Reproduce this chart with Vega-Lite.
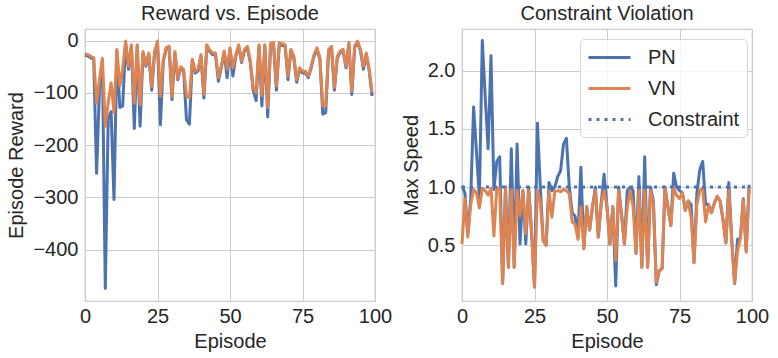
{
  "$schema": "https://vega.github.io/schema/vega-lite/v6.json",
  "padding": {"left": 6, "top": 3, "right": 5, "bottom": 5},
  "spacing": 87,
  "bounds": "flush",
  "datasets": {
    "reward": [
      {"Episode":0,"PN":-28,"VN":-25},{"Episode":1,"PN":-30,"VN":-27},{"Episode":2,"PN":-33,"VN":-30},{"Episode":3,"PN":-36,"VN":-33},
      {"Episode":4,"PN":-254,"VN":-120},{"Episode":5,"PN":-90,"VN":-75},{"Episode":6,"PN":-38,"VN":-34},{"Episode":7,"PN":-474,"VN":-164},
      {"Episode":8,"PN":-150,"VN":-119},{"Episode":9,"PN":-136,"VN":-81},{"Episode":10,"PN":-304,"VN":-138},{"Episode":11,"PN":-20,"VN":-17},
      {"Episode":12,"PN":-128,"VN":-87},{"Episode":13,"PN":-125,"VN":-55},{"Episode":14,"PN":-4,"VN":-1},{"Episode":15,"PN":-55,"VN":-49},
      {"Episode":16,"PN":-11,"VN":-8},{"Episode":17,"PN":-168,"VN":-120},{"Episode":18,"PN":-11,"VN":-8},{"Episode":19,"PN":-164,"VN":-123},
      {"Episode":20,"PN":-24,"VN":-21},{"Episode":21,"PN":-49,"VN":-46},{"Episode":22,"PN":-27,"VN":-24},{"Episode":23,"PN":-95,"VN":-88},
      {"Episode":24,"PN":-24,"VN":-21},{"Episode":25,"PN":-4,"VN":-1},{"Episode":26,"PN":-161,"VN":-107},{"Episode":27,"PN":-40,"VN":-37},
      {"Episode":28,"PN":-16,"VN":-13},{"Episode":29,"PN":-14,"VN":-11},{"Episode":30,"PN":-113,"VN":-107},{"Episode":31,"PN":-24,"VN":-21},
      {"Episode":32,"PN":-75,"VN":-72},{"Episode":33,"PN":-53,"VN":-50},{"Episode":34,"PN":-58,"VN":-55},{"Episode":35,"PN":-152,"VN":-106},
      {"Episode":36,"PN":-160,"VN":-110},{"Episode":37,"PN":-39,"VN":-36},{"Episode":38,"PN":-62,"VN":-59},{"Episode":39,"PN":-58,"VN":-55},
      {"Episode":40,"PN":-30,"VN":-27},{"Episode":41,"PN":-110,"VN":-103},{"Episode":42,"PN":-11,"VN":-8},{"Episode":43,"PN":-21,"VN":-18},
      {"Episode":44,"PN":-27,"VN":-24},{"Episode":45,"PN":-27,"VN":-24},{"Episode":46,"PN":-78,"VN":-71},{"Episode":47,"PN":-52,"VN":-49},
      {"Episode":48,"PN":-23,"VN":-20},{"Episode":49,"PN":-71,"VN":-55},{"Episode":50,"PN":-17,"VN":-14},{"Episode":51,"PN":-68,"VN":-52},
      {"Episode":52,"PN":-30,"VN":-27},{"Episode":53,"PN":-11,"VN":-8},{"Episode":54,"PN":-42,"VN":-39},{"Episode":55,"PN":-20,"VN":-17},
      {"Episode":56,"PN":-14,"VN":-11},{"Episode":57,"PN":-42,"VN":-39},{"Episode":58,"PN":-95,"VN":-90},{"Episode":59,"PN":-115,"VN":-100},
      {"Episode":60,"PN":-11,"VN":-8},{"Episode":61,"PN":-125,"VN":-105},{"Episode":62,"PN":-11,"VN":-8},{"Episode":63,"PN":-146,"VN":-128},
      {"Episode":64,"PN":-8,"VN":-5},{"Episode":65,"PN":-7,"VN":-4},{"Episode":66,"PN":-95,"VN":-87},{"Episode":67,"PN":-7,"VN":-4},
      {"Episode":68,"PN":-9,"VN":-6},{"Episode":69,"PN":-11,"VN":-8},{"Episode":70,"PN":-75,"VN":-68},{"Episode":71,"PN":-20,"VN":-17},
      {"Episode":72,"PN":-33,"VN":-30},{"Episode":73,"PN":-80,"VN":-75},{"Episode":74,"PN":-55,"VN":-52},{"Episode":75,"PN":-62,"VN":-59},
      {"Episode":76,"PN":-62,"VN":-59},{"Episode":77,"PN":-71,"VN":-68},{"Episode":78,"PN":-52,"VN":-49},{"Episode":79,"PN":-30,"VN":-27},
      {"Episode":80,"PN":-17,"VN":-14},{"Episode":81,"PN":-36,"VN":-33},{"Episode":82,"PN":-141,"VN":-125},{"Episode":83,"PN":-138,"VN":-125},
      {"Episode":84,"PN":-20,"VN":-17},{"Episode":85,"PN":-14,"VN":-11},{"Episode":86,"PN":-95,"VN":-90},{"Episode":87,"PN":-33,"VN":-30},
      {"Episode":88,"PN":-23,"VN":-20},{"Episode":89,"PN":-20,"VN":-17},{"Episode":90,"PN":-52,"VN":-49},{"Episode":91,"PN":-7,"VN":-4},
      {"Episode":92,"PN":-103,"VN":-97},{"Episode":93,"PN":-13,"VN":-10},{"Episode":94,"PN":-4,"VN":-1},{"Episode":95,"PN":-20,"VN":-17},
      {"Episode":96,"PN":-55,"VN":-49},{"Episode":97,"PN":-27,"VN":-24},{"Episode":98,"PN":-58,"VN":-55},{"Episode":99,"PN":-106,"VN":-100}
    ],
    "speed": [
      {"Episode":0,"PN":1.01,"VN":0.51},{"Episode":1,"PN":0.95,"VN":0.9},{"Episode":2,"PN":0.6,"VN":0.57},{"Episode":3,"PN":0.9,"VN":0.85},
      {"Episode":4,"PN":1.69,"VN":0.98},{"Episode":5,"PN":1.3,"VN":0.95},{"Episode":6,"PN":0.91,"VN":0.82},{"Episode":7,"PN":2.26,"VN":0.99},
      {"Episode":8,"PN":1.78,"VN":0.97},{"Episode":9,"PN":1.33,"VN":0.93},{"Episode":10,"PN":2.13,"VN":0.99},{"Episode":11,"PN":0.98,"VN":0.58},
      {"Episode":12,"PN":1.22,"VN":0.99},{"Episode":13,"PN":1.26,"VN":0.99},{"Episode":14,"PN":0.17,"VN":0.17},{"Episode":15,"PN":1.0,"VN":0.99},
      {"Episode":16,"PN":0.31,"VN":0.31},{"Episode":17,"PN":1.33,"VN":0.99},{"Episode":18,"PN":0.31,"VN":0.31},{"Episode":19,"PN":1.37,"VN":0.97},
      {"Episode":20,"PN":0.51,"VN":0.75},{"Episode":21,"PN":0.97,"VN":0.97},{"Episode":22,"PN":0.51,"VN":0.6},{"Episode":23,"PN":1.0,"VN":0.97},
      {"Episode":24,"PN":0.6,"VN":0.6},{"Episode":25,"PN":0.14,"VN":0.14},{"Episode":26,"PN":1.55,"VN":0.97},{"Episode":27,"PN":1.0,"VN":0.88},
      {"Episode":28,"PN":0.54,"VN":0.54},{"Episode":29,"PN":0.5,"VN":0.5},{"Episode":30,"PN":1.04,"VN":0.97},{"Episode":31,"PN":0.97,"VN":0.74},
      {"Episode":32,"PN":1.0,"VN":0.96},{"Episode":33,"PN":1.09,"VN":0.97},{"Episode":34,"PN":1.14,"VN":0.96},{"Episode":35,"PN":1.37,"VN":0.98},
      {"Episode":36,"PN":1.42,"VN":0.97},{"Episode":37,"PN":1.0,"VN":0.94},{"Episode":38,"PN":0.78,"VN":0.7},{"Episode":39,"PN":0.75,"VN":0.68},
      {"Episode":40,"PN":0.57,"VN":0.55},{"Episode":41,"PN":1.17,"VN":0.83},{"Episode":42,"PN":0.47,"VN":0.47},{"Episode":43,"PN":0.83,"VN":0.83},
      {"Episode":44,"PN":0.63,"VN":0.63},{"Episode":45,"PN":0.83,"VN":0.83},{"Episode":46,"PN":1.0,"VN":0.97},{"Episode":47,"PN":0.57,"VN":0.57},
      {"Episode":48,"PN":0.86,"VN":0.86},{"Episode":49,"PN":1.11,"VN":0.97},{"Episode":50,"PN":0.83,"VN":0.83},{"Episode":51,"PN":0.51,"VN":0.51},
      {"Episode":52,"PN":0.83,"VN":0.83},{"Episode":53,"PN":0.15,"VN":0.37},{"Episode":54,"PN":1.0,"VN":0.97},{"Episode":55,"PN":0.77,"VN":0.77},
      {"Episode":56,"PN":0.51,"VN":0.51},{"Episode":57,"PN":0.97,"VN":0.83},{"Episode":58,"PN":1.0,"VN":0.97},{"Episode":59,"PN":0.97,"VN":0.83},
      {"Episode":60,"PN":0.43,"VN":0.43},{"Episode":61,"PN":1.09,"VN":0.97},{"Episode":62,"PN":0.31,"VN":0.31},{"Episode":63,"PN":1.26,"VN":0.97},
      {"Episode":64,"PN":0.31,"VN":0.31},{"Episode":65,"PN":1.0,"VN":0.97},{"Episode":66,"PN":0.88,"VN":0.85},{"Episode":67,"PN":0.16,"VN":0.18},
      {"Episode":68,"PN":0.28,"VN":0.28},{"Episode":69,"PN":0.3,"VN":0.3},{"Episode":70,"PN":1.0,"VN":0.99},{"Episode":71,"PN":0.83,"VN":0.83},
      {"Episode":72,"PN":0.67,"VN":0.67},{"Episode":73,"PN":1.12,"VN":0.99},{"Episode":74,"PN":1.0,"VN":0.93},{"Episode":75,"PN":0.97,"VN":0.9},
      {"Episode":76,"PN":0.95,"VN":0.95},{"Episode":77,"PN":0.8,"VN":0.8},{"Episode":78,"PN":0.88,"VN":0.88},{"Episode":79,"PN":0.85,"VN":0.74},
      {"Episode":80,"PN":0.35,"VN":0.35},{"Episode":81,"PN":0.95,"VN":0.85},{"Episode":82,"PN":1.15,"VN":0.97},{"Episode":83,"PN":1.22,"VN":0.99},
      {"Episode":84,"PN":0.85,"VN":0.7},{"Episode":85,"PN":0.85,"VN":0.84},{"Episode":86,"PN":0.78,"VN":0.78},{"Episode":87,"PN":0.86,"VN":0.86},
      {"Episode":88,"PN":0.92,"VN":0.92},{"Episode":89,"PN":0.88,"VN":0.88},{"Episode":90,"PN":0.72,"VN":0.72},{"Episode":91,"PN":0.52,"VN":0.52},
      {"Episode":92,"PN":1.04,"VN":0.97},{"Episode":93,"PN":0.55,"VN":0.55},{"Episode":94,"PN":0.17,"VN":0.17},{"Episode":95,"PN":0.55,"VN":0.45},
      {"Episode":96,"PN":0.56,"VN":0.56},{"Episode":97,"PN":0.9,"VN":0.89},{"Episode":98,"PN":0.45,"VN":0.44},{"Episode":99,"PN":1.02,"VN":0.99}
    ],
    "constraint": [
      {"Episode":0,"Speed":1.0,"Method":"Constraint"},{"Episode":99,"Speed":1.0,"Method":"Constraint"}
    ]
  },
  "resolve": {"scale": {"color": "independent", "strokeDash": "independent"}, "legend": {"color": "independent", "strokeDash": "independent"}},
  "hconcat": [
    {
      "width": 290,
      "height": 272,
      "title": {"text": "Reward vs. Episode"},
      "data": {"name": "reward"},
      "transform": [{"fold": ["PN", "VN"], "as": ["Method", "Reward"]}],
      "mark": {"type": "line", "strokeWidth": 3, "strokeJoin": "round"},
      "encoding": {
        "x": {"field": "Episode", "type": "quantitative", "scale": {"domain": [0, 100], "nice": false, "zero": false}, "axis": {"values": [0, 25, 50, 75, 100], "title": "Episode", "format": "d"}},
        "y": {"field": "Reward", "type": "quantitative", "scale": {"domain": [-498, 22], "nice": false, "zero": false}, "axis": {"values": [-400, -300, -200, -100, 0], "title": "Episode Reward", "format": "d"}},
        "color": {"field": "Method", "type": "nominal", "scale": {"domain": ["PN", "VN"], "range": ["#4c72b0", "#dd8452"]}, "legend": null}
      }
    },
    {
      "width": 290,
      "height": 272,
      "title": {"text": "Constraint Violation"},
      "encoding": {
        "x": {"field": "Episode", "type": "quantitative", "scale": {"domain": [0, 100], "nice": false, "zero": false}, "axis": {"values": [0, 25, 50, 75, 100], "title": "Episode", "format": "d"}},
        "y": {"field": "Speed", "type": "quantitative", "scale": {"domain": [0.02, 2.36], "nice": false, "zero": false}, "axis": {"values": [0.5, 1.0, 1.5, 2.0], "title": "Max Speed", "format": ".1f"}},
        "color": {"field": "Method", "type": "nominal", "scale": {"domain": ["PN", "VN", "Constraint"], "range": ["#4c72b0", "#dd8452", "#4c72b0"]},
          "legend": {"orient": "none", "legendX": 118, "legendY": 10, "title": null, "symbolType": "M-2.1,0H2.1", "symbolSize": 400, "symbolOffset": 11, "symbolStrokeWidth": 3, "labelFontSize": 20, "labelColor": "#262626", "labelFont": "Liberation Sans", "rowPadding": 9, "padding": 7, "fillColor": "rgba(255,255,255,0.8)", "strokeColor": "#d6d6d6", "cornerRadius": 4, "labelOffset": 27}},
        "strokeDash": {"field": "Method", "type": "nominal", "scale": {"domain": ["PN", "VN", "Constraint"], "range": [[1, 0], [1, 0], [3, 5]]},
          "legend": {"orient": "none", "legendX": 118, "legendY": 10, "title": null, "symbolType": "M-2.1,0H2.1", "symbolSize": 400, "symbolOffset": 11, "symbolStrokeWidth": 3, "labelFontSize": 20, "labelColor": "#262626", "labelFont": "Liberation Sans", "rowPadding": 9, "padding": 7, "fillColor": "rgba(255,255,255,0.8)", "strokeColor": "#d6d6d6", "cornerRadius": 4, "labelOffset": 27}}
      },
      "layer": [
        {
          "data": {"name": "speed"},
          "transform": [{"fold": ["PN", "VN"], "as": ["Method", "Speed"]}],
          "mark": {"type": "line", "strokeWidth": 3, "strokeJoin": "round"}
        },
        {
          "data": {"name": "constraint"},
          "mark": {"type": "line", "strokeWidth": 3}
        }
      ]
    }
  ],
  "config": {
    "font": "Liberation Sans",
    "view": {"stroke": "#cccccc", "strokeWidth": 1.25},
    "axis": {"grid": true, "gridColor": "#cccccc", "gridWidth": 1, "domain": false, "ticks": false, "tickSize": 0, "labelFlush": false, "labelFontSize": 20, "titleFontSize": 20, "labelColor": "#262626", "titleColor": "#262626", "titleFontWeight": "normal", "labelFont": "Liberation Sans", "titleFont": "Liberation Sans"},
    "axisX": {"labelPadding": 5, "titlePadding": 5},
    "axisY": {"labelPadding": 7, "titlePadding": 6},
    "title": {"fontSize": 20, "fontWeight": "normal", "color": "#262626", "offset": 5, "font": "Liberation Sans"}
  }
}
